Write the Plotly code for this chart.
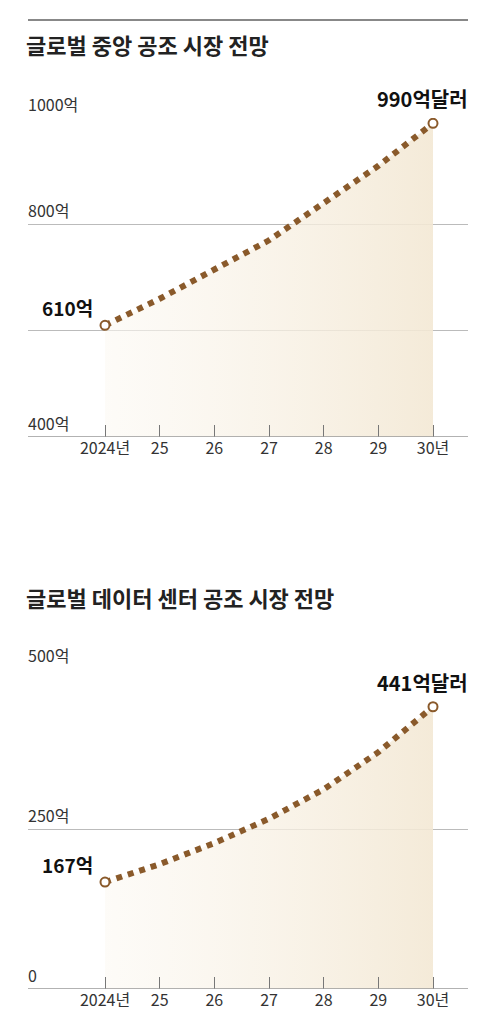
import plotly.graph_objects as go

years = [2024, 2025, 2026, 2027, 2028, 2029, 2030]
year_labels = ["2024년", "25", "26", "27", "28", "29", "30년"]

central_title = "글로벌 중앙 공조 시장 전망"
central_vals = [610, 660, 715, 770, 840, 910, 990]
central_ticks = [400, 600, 800, 1000]
central_tick_text = ["400억", "", "800억", "1000억"]

dc_title = "글로벌 데이터 센터 공조 시장 전망"
dc_vals = [167, 195, 228, 266, 312, 370, 441]
dc_ticks = [0, 250, 500]
dc_tick_text = ["0", "250억", "500억"]

W, H = 480, 1034
FONT = "Noto Sans CJK KR"
BROWN = "#8a5a2b"


def py(px):
    return 1 - px / H


fig = go.Figure()
# axis spans 20..460 px; 2024 at 97 px, 2030 at 425 px
xr = [2024 - 77 / 54.67, 2030 + 35 / 54.67]

panels = [
    dict(vals=central_vals, ticks=central_ticks, text=central_tick_text, rng=[400, 1000],
         dom=[py(429), py(110)], title=central_title, title_y=36,
         first="610억", last="990억달러", xa="x", ya="y"),
    dict(vals=dc_vals, ticks=dc_ticks, text=dc_tick_text, rng=[0, 500],
         dom=[py(981), py(661)], title=dc_title, title_y=589,
         first="167억", last="441억달러", xa="x2", ya="y2"),
]

annotations = []
shapes = [dict(type="line", xref="paper", yref="paper", x0=20 / W, x1=460 / W,
               y0=py(12), y1=py(12), line=dict(color="#888", width=2))]

for i, p in enumerate(panels):
    sfx = "" if i == 0 else "2"
    fig.add_trace(go.Scatter(
        x=years, y=p["vals"], xaxis=p["xa"], yaxis=p["ya"], mode="lines",
        line=dict(color=BROWN, width=6, dash="dot"), fill="tozeroy",
        fillgradient=dict(type="horizontal",
                          colorscale=[[0, "rgba(252,249,243,0.6)"], [1, "rgba(243,232,212,0.9)"]]),
        hoverinfo="skip", showlegend=False))
    fig.add_trace(go.Scatter(
        x=[years[0], years[-1]], y=[p["vals"][0], p["vals"][-1]], xaxis=p["xa"], yaxis=p["ya"],
        mode="markers", marker=dict(size=9, color="white", line=dict(color=BROWN, width=2)),
        hoverinfo="skip", showlegend=False))
    fig.update_layout(**{
        "xaxis" + sfx: dict(domain=[20 / W, 460 / W], range=xr, tickvals=years, ticktext=year_labels,
                            ticks="inside", ticklen=12, tickcolor="#777", showgrid=False,
                            zeroline=False, showline=False, fixedrange=True,
                            tickfont=dict(family=FONT, size=16, color="#333"),
                            anchor=p["ya"]),
        "yaxis" + sfx: dict(domain=p["dom"], range=p["rng"], tickvals=p["ticks"],
                            showticklabels=False, showgrid=True, gridcolor="#bbb",
                            gridwidth=1, zeroline=False, showline=False, fixedrange=True,
                            anchor=p["xa"]),
    })
    shapes.append(dict(type="line", xref="paper", yref=p["ya"], x0=20 / W, x1=460 / W,
                       y0=p["rng"][0], y1=p["rng"][0], line=dict(color="#999", width=1.5)))
    for t, txt in zip(p["ticks"], p["text"]):
        if txt:
            annotations.append(dict(x=18 / W, xref="paper", y=t, yref=p["ya"], text=txt,
                                    showarrow=False, xanchor="left", yanchor="bottom", yshift=0,
                                    font=dict(family=FONT, size=16, color="#333")))
    annotations.append(dict(x=16 / W, xref="paper", y=py(p["title_y"]), yref="paper",
                            text="<b>" + p["title"] + "</b>", showarrow=False,
                            xanchor="left", yanchor="middle",
                            font=dict(family=FONT, size=22, color="#222")))
    annotations.append(dict(x=years[0], xref=p["xa"], y=p["vals"][0], yref=p["ya"],
                            text="<b>" + p["first"] + "</b>", showarrow=False,
                            xanchor="right", yanchor="bottom", xshift=-10, yshift=2,
                            font=dict(family=FONT, size=19, color="#111")))
    annotations.append(dict(x=462 / W, xref="paper", y=p["vals"][-1], yref=p["ya"],
                            text="<b>" + p["last"] + "</b>", showarrow=False,
                            xanchor="right", yanchor="bottom", yshift=8,
                            font=dict(family=FONT, size=20, color="#111")))

fig.update_layout(width=W, height=H, margin=dict(l=0, r=0, t=0, b=0),
                  plot_bgcolor="white", paper_bgcolor="white",
                  annotations=annotations, shapes=shapes)

fig.write_html("out.html")
